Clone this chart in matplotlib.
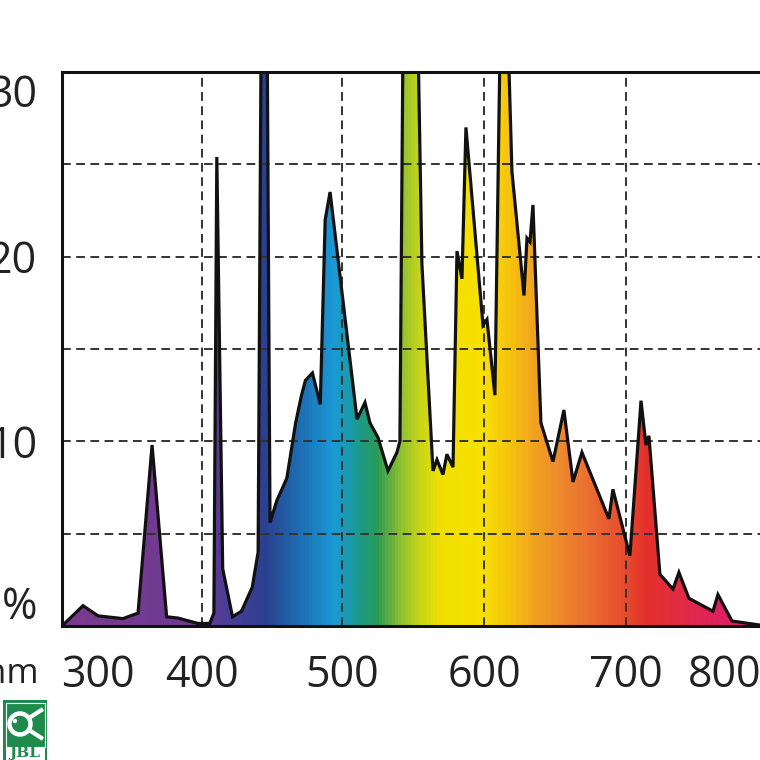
import numpy as np
import matplotlib
matplotlib.use("Agg")
import matplotlib.pyplot as plt
from matplotlib.colors import LinearSegmentedColormap
from matplotlib.patches import Polygon, Rectangle, Circle
from matplotlib.lines import Line2D

# spectrum (nm, relative %)
wavelength = [265.4, 285.6, 300.0, 324.0, 338.5, 352.0, 366.0, 377.0, 396.0,
              405.6, 408.5, 410.6, 414.8, 421.8, 428.2, 435.9, 440.1, 444.4,
              448.6, 453.5, 460.6, 466.9, 471.1, 473.9, 478.9, 484.5, 488.0,
              491.5, 510.6, 516.2, 519.7, 525.4, 532.4, 538.7, 540.8, 543.3,
              552.8, 556.3, 564.1, 566.9, 571.1, 573.9, 578.2, 581.0, 584.5,
              587.3, 599.3, 602.1, 607.7, 612.0, 615.8, 619.7, 628.2, 630.3,
              632.4, 634.5, 640.1, 648.6, 656.3, 662.7, 669.0, 688.0, 690.8,
              704.0, 715.2, 720.2, 723.2, 734.3, 747.5, 753.5, 763.6, 787.9,
              792.9, 807.1, 835.4, 845.0]
intensity = [0.0, 1.1, 0.55, 0.4, 0.7, 9.8, 0.5, 0.43, 0.14,
             0.14, 0.7, 25.4, 3.1, 0.5, 0.8, 2.1, 4.0, 60.0,
             5.6, 6.8, 8.0, 11.0, 12.5, 13.3, 13.7, 12.0, 22.0,
             23.5, 11.2, 12.1, 11.0, 10.2, 8.4, 9.4, 10.0, 35.0,
             35.0, 19.6, 8.4, 9.0, 8.2, 9.3, 8.6, 20.3, 18.8,
             27.0, 16.3, 16.6, 12.5, 35.0, 35.0, 24.6, 17.9, 21.0,
             20.8, 22.8, 11.0, 8.9, 11.7, 7.8, 9.4, 5.8, 7.4,
             3.8, 12.2, 9.8, 10.3, 2.8, 2.0, 2.9, 1.5, 0.8,
             1.7, 0.27, 0.05, 0.0]

# fill colours along the wavelength axis
color_nm = [265, 398, 417, 445, 469, 494, 511, 525, 541, 555, 569, 599,
            620, 637, 661, 684, 701, 721, 762, 798, 846]
color_hex = ["#7b3a8e", "#6b3a92", "#4c3c96", "#2a4090", "#1d6cb0", "#1a9ad6",
             "#1a9a90", "#2a9a55", "#8cbf30", "#c8d41a", "#f0e000", "#f8e000",
             "#f6c010", "#f0a020", "#ec8030", "#e86030", "#e64a2c", "#e4302c",
             "#e02a48", "#de2060", "#de2068"]

x_ticks = [300, 400, 500, 600, 700, 800]
x_grid = [400, 500, 600, 700]
y_grid = [5, 10, 15, 20, 25]
y_label_pos = [1.3, 10, 20, 29]
y_labels = ["%", "10", "20", "30"]

# the printed axis is not linear: 300-400 and 700-800 are squeezed
knot_nm = np.array([200, 300, 400, 500, 600, 700, 800, 900], dtype=float)
knot_px = np.array([-6, 98, 202, 342, 484, 626, 725, 824], dtype=float)


def forward(v):
    return np.interp(v, knot_nm, knot_px)


def inverse(v):
    return np.interp(v, knot_px, knot_nm)


plt.rcParams["font.family"] = ["Open Sans", "DejaVu Sans"]

fig = plt.figure(figsize=(7.6, 7.6), dpi=100)
ax = fig.add_axes([62 / 760, 134 / 760, 708 / 760, 554 / 760])
ax.set_xscale("function", functions=(forward, inverse))
ax.set_xlim(265.4, 845.5)
ax.set_ylim(0, 30)

# gradient clipped to the spectrum outline
cmap = LinearSegmentedColormap.from_list(
    "spec", [((n - color_nm[0]) / (color_nm[-1] - color_nm[0]), c)
             for n, c in zip(color_nm, color_hex)])
xe = np.linspace(color_nm[0], color_nm[-1], 700)
xc = 0.5 * (xe[:-1] + xe[1:])
mesh = ax.pcolormesh(xe, [0, 60], [xc], cmap=cmap,
                     vmin=color_nm[0], vmax=color_nm[-1], zorder=1,
                     shading="flat", rasterized=True)
verts = list(zip(wavelength, intensity)) + [(wavelength[-1], 0), (wavelength[0], 0)]
outline = Polygon(verts, closed=True, facecolor="none", edgecolor="none",
                  transform=ax.transData)
ax.add_patch(outline)
mesh.set_clip_path(outline)

for g in x_grid:
    ax.axvline(g, color="#333333", lw=1.4, dashes=(4.5, 2.8), zorder=2)
for g in y_grid:
    ax.axhline(g, color="#333333", lw=1.4, dashes=(4.5, 2.8), zorder=2)

ax.plot(wavelength, intensity, color="#111111", lw=2.3, zorder=3,
        solid_joinstyle="miter")

for s in ax.spines.values():
    s.set_linewidth(2.2)
    s.set_color("#111111")
    s.set_zorder(4)

ax.set_xticks(x_ticks)
ax.set_xticklabels([str(t) for t in x_ticks])
ax.set_yticks(y_label_pos)
ax.set_yticklabels(y_labels)
ax.tick_params(axis="both", length=0, labelsize=31, labelcolor="#222222")
ax.tick_params(axis="x", pad=20)
ax.tick_params(axis="y", pad=18)
ax.minorticks_off()

fig.text(39 / 760, 1 - 674 / 760, "nm", fontsize=25, color="#222222",
         ha="right", va="center")

# small JBL logo in the corner
green = "#1e8a4c"
fig.patches.append(Rectangle((3 / 760, 0), 44 / 760, 60 / 760,
                             transform=fig.transFigure, facecolor=green,
                             edgecolor="none"))
fig.patches.append(Rectangle((5.5 / 760, 13 / 760), 39 / 760, 44 / 760,
                             transform=fig.transFigure, facecolor="none",
                             edgecolor="white", lw=0.8))
fig.patches.append(Rectangle((5.5 / 760, 0), 39 / 760, 13 / 760,
                             transform=fig.transFigure, facecolor="white",
                             edgecolor="none"))
fig.patches.append(Circle((20 / 760, 1 - 724 / 760), 10.5 / 760,
                          transform=fig.transFigure, facecolor="none",
                          edgecolor="white", lw=3.2))
fig.patches.append(Circle((15 / 760, 1 - 721 / 760), 2.2 / 760,
                          transform=fig.transFigure, facecolor="white",
                          edgecolor="none"))
for y0, y1 in [(718, 709), (730, 739)]:
    fig.lines.append(Line2D([29 / 760, 43 / 760], [1 - y0 / 760, 1 - y1 / 760],
                            transform=fig.transFigure, color="white", lw=3,
                            solid_capstyle="butt"))
fig.text(25 / 760, 1 - 753.5 / 760, "JBL", fontsize=11, fontweight="bold",
         color=green, ha="center", va="center", family="DejaVu Serif")

fig.savefig("out.png", dpi=100)
